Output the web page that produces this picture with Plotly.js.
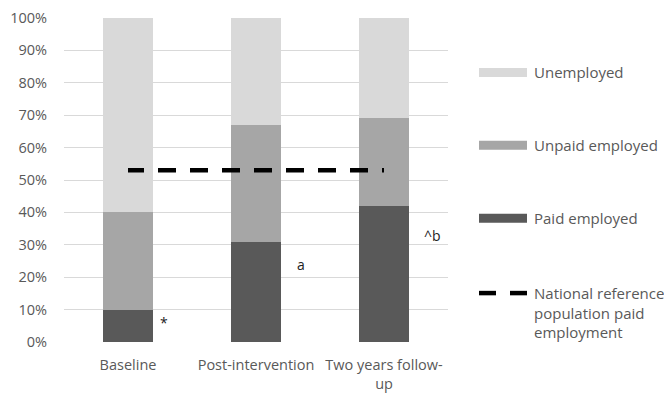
<!DOCTYPE html>
<html><head><meta charset="utf-8">
<script src="https://cdn.plot.ly/plotly-3.0.1.min.js"></script>
<style>body{margin:0;background:#fff}#chart{width:664px;height:393px}</style>
</head><body><div id="chart"></div>
<script>
var categories = ["Baseline", "Post-intervention", "Two years follow-<br>up"];
var paidEmployed = [10, 31, 42];
var unpaidEmployed = [30, 36, 27];
var unemployed = [60, 33, 31];
var nationalReference = [53, 53, 53];
var seriesNames = ["Unemployed", "Unpaid employed", "Paid employed", "National reference<br>population paid<br>employment"];
var seriesColors = ["#d9d9d9", "#a6a6a6", "#595959", "#000000"];
var markTexts = ["*", "a", "^b"];
var markY = [6, 24, 33];

var W = 664, H = 393, L = 64, R = 448, T = 17.5, B = 342;
function px(x){ return (x - L) / (R - L); }
function py(y){ return (B - y) / (B - T); }
var font = "Open Sans, sans-serif";
var txt = "#595959";

var traces = [
  {type:"bar", x:categories, y:paidEmployed, name:seriesNames[2], marker:{color:seriesColors[2]}, width:0.39, showlegend:false, hoverinfo:"skip"},
  {type:"bar", x:categories, y:unpaidEmployed, name:seriesNames[1], marker:{color:seriesColors[1]}, width:0.39, showlegend:false, hoverinfo:"skip"},
  {type:"bar", x:categories, y:unemployed, name:seriesNames[0], marker:{color:seriesColors[0]}, width:0.39, showlegend:false, hoverinfo:"skip"},
  {type:"scatter", mode:"lines", x:categories, y:nationalReference, name:seriesNames[3], line:{color:seriesColors[3], width:4.5, dash:"16px,14px,2px,0px"}, showlegend:false, hoverinfo:"skip"}
];

var annotations = markTexts.map(function(t, i){
  return {x:categories[i], y:markY[i], xref:"x", yref:"y", text:t, showarrow:false, xanchor:"left", xshift:[30,39,38][i], font:{family:font, size:14, color:"#222"}};
});

var legendY = [72, 145, 218, 293];
var shapes = [];
for (var i = 0; i < 3; i++) {
  shapes.push({type:"rect", xref:"paper", yref:"paper", x0:px(479), x1:px(527), y0:py(legendY[i]+4.5), y1:py(legendY[i]-4.5), fillcolor:seriesColors[i], line:{width:0}});
  annotations.push({xref:"paper", yref:"paper", x:px(532), y:py(legendY[i]), text:seriesNames[i], showarrow:false, xanchor:"left", yanchor:"middle", font:{family:font, size:15, color:txt}});
}
shapes.push({type:"line", xref:"paper", yref:"paper", x0:px(479), x1:px(496), y0:py(293), y1:py(293), line:{color:seriesColors[3], width:4.5}});
shapes.push({type:"line", xref:"paper", yref:"paper", x0:px(510), x1:px(527), y0:py(293), y1:py(293), line:{color:seriesColors[3], width:4.5}});
annotations.push({xref:"paper", yref:"paper", x:px(532), y:py(281), text:seriesNames[3], showarrow:false, xanchor:"left", yanchor:"top", align:"left", font:{family:font, size:15, color:txt}});

var layout = {
  width:W, height:H, barmode:"stack", bargap:0.61,
  margin:{l:L, r:W-R, t:T, b:H-B, pad:0},
  paper_bgcolor:"#fff", plot_bgcolor:"#fff",
  font:{family:font, color:txt, size:14},
  xaxis:{type:"category", showgrid:false, zeroline:false, showline:false, ticks:"outside", ticklen:10, tickcolor:"rgba(0,0,0,0)", tickfont:{family:font, size:14.5, color:txt}, fixedrange:true},
  yaxis:{range:[0,100], dtick:10, ticksuffix:"%", gridcolor:"#d9d9d9", gridwidth:1, zeroline:false, showline:false, ticks:"outside", ticklen:13, tickcolor:"rgba(0,0,0,0)", tickfont:{family:font, size:14.5, color:txt}, fixedrange:true},
  shapes:shapes, annotations:annotations, showlegend:false
};
Plotly.newPlot("chart", traces, layout, {displayModeBar:false, staticPlot:true});
</script></body></html>
